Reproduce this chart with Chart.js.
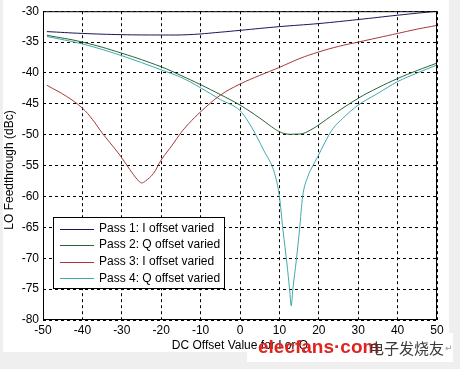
<!DOCTYPE html>
<html>
<head>
<meta charset="utf-8">
<script src="https://cdn.jsdelivr.net/npm/chart.js@4.4.1/dist/chart.umd.min.js"></script>
<style>
  html, body { margin: 0; padding: 0; background: #efefef; }
  #wrap { position: relative; width: 460px; height: 369px; }
</style>
</head>
<body>
<div id="wrap"><canvas id="lo-chart" width="460" height="369"></canvas></div>
<script>
var seriesLabels = ['Pass 1: I offset varied', 'Pass 2: Q offset varied', 'Pass 3: I offset varied', 'Pass 4: Q offset varied'];
var seriesColors = ['#17175a', '#2b6236', '#a83838', '#42a8ad'];

var pass1X = [-49, -40, -30, -20, -13, -5, 0, 10, 20, 30, 40, 50];
var pass1Y = [-33.3, -33.6, -33.8, -33.85, -33.8, -33.4, -33.1, -32.5, -32.0, -31.35, -30.65, -30.0];

var pass2X = [-49, -40, -30, -20, -15, -10, -5, 0, 5, 8, 10, 12, 14, 16, 18, 20, 24, 30, 35, 40, 45, 50];
var pass2Y = [-33.9, -35.0, -36.8, -39.0, -40.4, -41.9, -43.5, -45.2, -47.3, -48.7, -49.5, -49.9, -49.9, -49.8, -49.2, -48.4, -46.6, -44.1, -42.4, -40.9, -39.6, -38.4];

var pass3X = [-49, -44, -40, -37.5, -35, -33, -30.5, -28, -26, -25, -24, -22, -20, -17, -15, -13, -10, -5, 0, 5, 10, 15, 20, 25, 30, 35, 40, 45, 50];
var pass3Y = [-42.0, -43.8, -45.7, -47.5, -49.7, -51.3, -53.3, -55.6, -57.3, -57.8, -57.5, -56.3, -54.1, -51.5, -49.7, -48.2, -46.3, -43.6, -41.8, -40.4, -39.1, -37.7, -36.6, -35.7, -35.0, -34.3, -33.6, -32.9, -32.3];

var pass4X = [-49, -40, -30, -20, -15, -10, -5, 0, 2, 4, 6, 8.8, 10, 10.9, 11.9, 12.6, 13, 13.4, 14.3, 15.1, 15.9, 17.2, 18.5, 19.7, 21.5, 23.6, 26, 30, 35, 40, 45, 50];
var pass4Y = [-34.1, -35.3, -37.2, -39.5, -40.7, -42.4, -44.3, -46.1, -47.8, -50.0, -52.5, -56.3, -60.0, -65.4, -70.8, -75.1, -77.7, -75.1, -70.3, -65.4, -60.0, -56.8, -55.0, -53.6, -51.3, -49.0, -47.4, -45.2, -43.3, -41.4, -40.0, -38.7];

var xTicks = [-50, -40, -30, -20, -10, 0, 10, 20, 30, 40, 50];
var yTicks = [-30, -35, -40, -45, -50, -55, -60, -65, -70, -75, -80];

var xTitle = 'DC Offset Value for I or Q';
var yTitle = 'LO Feedthrough (dBc)';
var markText = 'elecfans\u00b7com';
var markText2 = '电子发烧友';

var FONT = '"Liberation Sans", Arial, sans-serif';

function toPoints(xs, ys) {
    return xs.map(function(x, i) { return { x: x, y: ys[i] }; });
}

var allX = [pass1X, pass2X, pass3X, pass4X];
var allY = [pass1Y, pass2Y, pass3Y, pass4Y];

var datasets = seriesLabels.map(function(label, i) {
    var ds = {
        label: label,
        data: toPoints(allX[i], allY[i]),
        borderColor: seriesColors[i],
        borderWidth: 1,
        pointRadius: 0,
        fill: false,
        tension: 0.4
    };
    // the sharp notch of pass 4 must not overshoot
    if (i === 3) {
        ds.cubicInterpolationMode = 'monotone';
    }
    return ds;
});

// page background, frame, titles, legend and watermark
var decor = {
    id: 'decor',
    beforeDraw: function(chart) {
        var ctx = chart.ctx;
        ctx.save();
        ctx.fillStyle = '#efefef';
        ctx.fillRect(0, 0, chart.width, chart.height);
        ctx.fillStyle = '#ffffff';
        ctx.fillRect(3, 0, 446, 352);
        ctx.fillRect(247, 333, 206, 29);
        ctx.restore();
    },
    afterDraw: function(chart) {
        var ctx = chart.ctx;
        var a = chart.chartArea;
        ctx.save();

        ctx.strokeStyle = '#000';
        ctx.lineWidth = 1;
        ctx.strokeRect(a.left + 0.5, a.top + 0.5, a.right - a.left - 1, a.bottom - a.top - 1);

        ctx.fillStyle = '#000';
        ctx.font = '12px ' + FONT;
        ctx.textAlign = 'center';
        ctx.textBaseline = 'middle';
        ctx.fillText(xTitle, (a.left + a.right) / 2, 346);

        ctx.save();
        ctx.translate(10, 170);
        ctx.rotate(-Math.PI / 2);
        ctx.fillText(yTitle, 0, 0);
        ctx.restore();

        // legend box
        ctx.fillStyle = '#fff';
        ctx.fillRect(53.5, 217.5, 171, 71);
        ctx.strokeStyle = '#000';
        ctx.strokeRect(53.5, 217.5, 171, 71);
        ctx.textAlign = 'left';
        for (var i = 0; i < seriesLabels.length; i++) {
            var ry = 228.5 + i * 16.6;
            ctx.strokeStyle = seriesColors[i];
            ctx.beginPath();
            ctx.moveTo(60, Math.round(ry) + 0.5);
            ctx.lineTo(94, Math.round(ry) + 0.5);
            ctx.stroke();
            ctx.fillStyle = '#000';
            ctx.fillText(seriesLabels[i], 99, ry);
        }

        // watermark
        ctx.fillStyle = '#e02420';
        ctx.font = 'bold 19px ' + FONT;
        ctx.fillText(markText, 258, 348);
        ctx.fillStyle = '#3a3a3a';
        ctx.font = '15px "Noto Sans CJK SC", sans-serif';
        ctx.fillText(markText2, 369, 348);
        ctx.fillStyle = '#9a9a9a';
        ctx.font = '9px "DejaVu Sans", sans-serif';
        ctx.fillText('\u21b5', 445, 349);
        ctx.restore();
    }
};

var ctx = document.getElementById('lo-chart').getContext('2d');
var loChart = new Chart(ctx, {
    type: 'line',
    data: { datasets: datasets },
    options: {
        responsive: false,
        animation: false,
        layout: { padding: { left: 0, top: 11, right: 23, bottom: 17 } },
        plugins: {
            legend: { display: false },
            tooltip: { enabled: false }
        },
        scales: {
            x: {
                type: 'linear',
                min: -50,
                max: 50,
                afterFit: function(scale) { scale.height = 32; },
                afterBuildTicks: function(scale) {
                    scale.ticks = xTicks.map(function(v) { return { value: v }; });
                },
                grid: { color: '#000', lineWidth: 1, drawTicks: false },
                border: { display: false, dash: [3, 3] },
                ticks: {
                    padding: 3,
                    maxRotation: 0,
                    color: '#000',
                    font: { family: FONT, size: 12 }
                }
            },
            y: {
                type: 'linear',
                min: -80,
                max: -30,
                afterFit: function(scale) { scale.width = 43; },
                afterBuildTicks: function(scale) {
                    scale.ticks = yTicks.map(function(v) { return { value: v }; });
                },
                grid: { color: '#000', lineWidth: 1, drawTicks: false },
                border: { display: false, dash: [3, 3] },
                ticks: {
                    padding: 4,
                    color: '#000',
                    font: { family: FONT, size: 12 }
                }
            }
        }
    },
    plugins: [decor]
});
</script>
</body>
</html>
